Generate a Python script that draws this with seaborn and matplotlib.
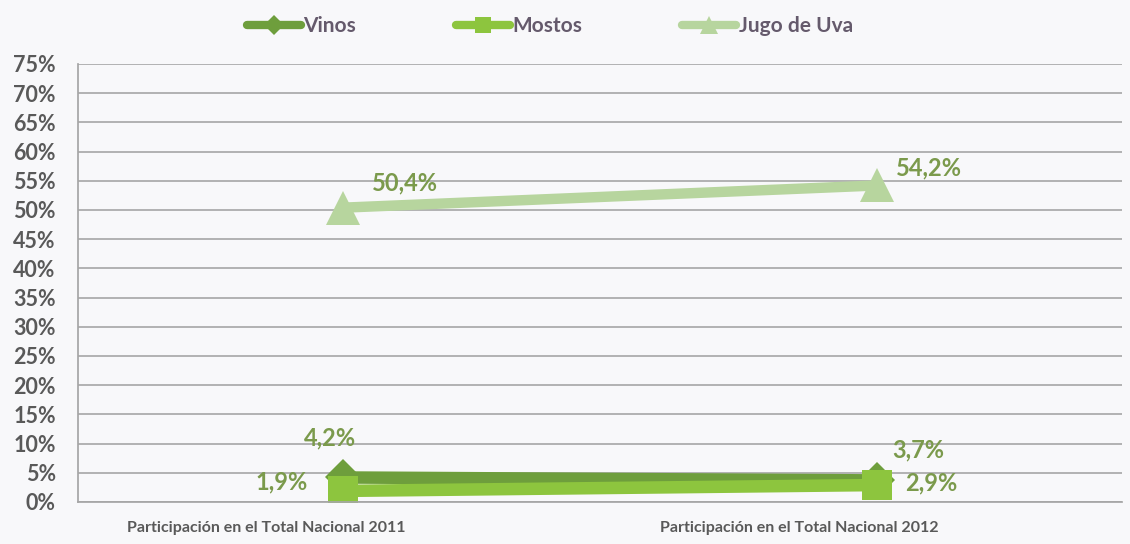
import matplotlib
matplotlib.use("Agg")
import matplotlib.pyplot as plt
import matplotlib.transforms as mtransforms
import seaborn as sns
import pandas as pd

categories = ["Participación en el Total Nacional 2011", "Participación en el Total Nacional 2012"]
series_names = ["Vinos", "Mostos", "Jugo de Uva"]
vinos = [4.2, 3.7]
mostos = [1.9, 2.9]
jugo = [50.4, 54.2]
vinos_labels = ["4,2%", "3,7%"]
mostos_labels = ["1,9%", "2,9%"]
jugo_labels = ["50,4%", "54,2%"]
yticks = list(range(0, 80, 5))

sns.set_theme(style="white")
plt.rcParams['font.family'] = ['Lato', 'DejaVu Sans']

rows = []
for name, vals in zip(series_names, [vinos, mostos, jugo]):
    for c, v in zip(categories, vals):
        rows.append({"cat": c, "serie": name, "val": v})
df = pd.DataFrame(rows)

colors = {"Vinos": "#6e9e3c", "Mostos": "#8dc53e", "Jugo de Uva": "#b7d59e"}
markers = {"Vinos": "D", "Mostos": "s", "Jugo de Uva": "^"}
widths = {"Vinos": 9, "Mostos": 9, "Jugo de Uva": 7.5}
msizes = {"Vinos": 18, "Mostos": 22, "Jugo de Uva": 24}

fig = plt.figure(figsize=(11.3, 5.44), dpi=100)
fig.patch.set_facecolor("#f8f8fa")
ax = fig.add_axes([78/1130, (544-502)/544, (1122-78)/1130, (502-64)/544])
ax.set_facecolor("#f8f8fa")

for name in series_names:
    sub = df[df.serie == name]
    sns.lineplot(data=sub, x="cat", y="val", ax=ax, color=colors[name],
                 linewidth=widths[name], marker=markers[name],
                 markersize=msizes[name], markeredgewidth=0, label=name, sort=False)

ax.set_xlim(-0.497, 1.46)
ax.set_ylim(0, 75)
ax.set_yticks(yticks)
ax.set_yticklabels([f"{t}%" for t in yticks], color="#595959", fontsize=15.5, fontweight="bold")
ax.tick_params(axis="x", colors="#595959", labelsize=11.5, pad=14, length=0)
ax.tick_params(axis="y", length=0, pad=16)
shift = mtransforms.ScaledTranslation(-77/100, 0, fig.dpi_scale_trans)
for lbl in ax.get_xticklabels():
    lbl.set_fontweight("bold")
    lbl.set_transform(lbl.get_transform() + shift)
ax.set_xlabel("")
ax.set_ylabel("")
ax.yaxis.grid(True, color="#a6a6a6", linewidth=1.2)
ax.set_axisbelow(True)
for s in ["top", "right"]:
    ax.spines[s].set_visible(False)
ax.spines["left"].set_color("#a6a6a6")
ax.spines["bottom"].set_color("#a6a6a6")

lab_color = "#7b9a4c"
fs = 17
def lab(text, x, y, dx, dy, ha):
    ax.annotate(text, (x, y), xytext=(dx, dy), textcoords="offset pixels",
                color=lab_color, fontsize=fs, fontweight="bold", ha=ha, va="center")

lab(jugo_labels[0], 0, jugo[0], 29, 25, "left")
lab(jugo_labels[1], 1, jugo[1], 19, 18, "left")
lab(vinos_labels[0], 0, vinos[0], -13, 40, "center")
lab(vinos_labels[1], 1, vinos[1], 16, 30, "left")
lab(mostos_labels[0], 0, mostos[0], -35, 9, "right")
lab(mostos_labels[1], 1, mostos[1], 29, 2, "left")

leg = ax.legend(loc="center", bbox_to_anchor=(0.452, 1.0 + 38/438), ncol=3, frameon=False,
                fontsize=15, handlelength=2.6, columnspacing=4.8, markerscale=0.55,
                handletextpad=0.1)
for h in leg.legend_handles:
    h.set_linewidth(6)
for t in leg.get_texts():
    t.set_color("#655a6c")
    t.set_fontweight("bold")

fig.savefig("out.png", dpi=100, facecolor=fig.get_facecolor())
